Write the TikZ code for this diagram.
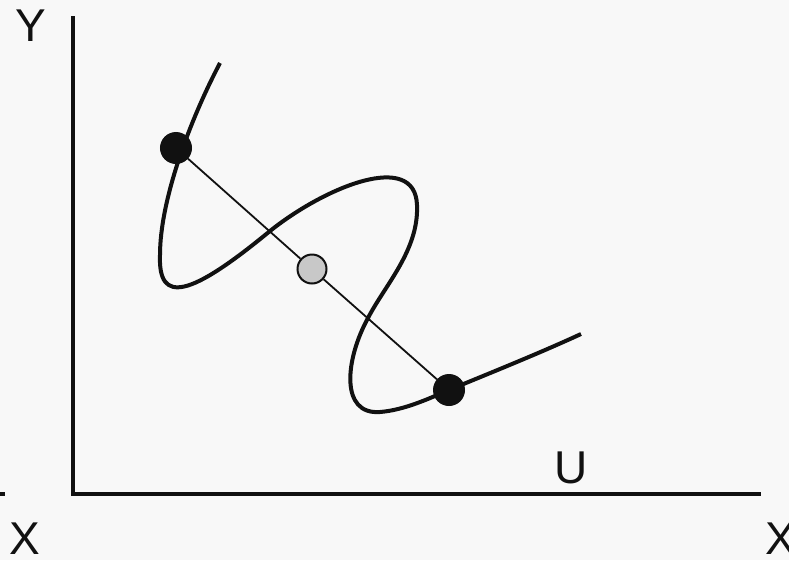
\documentclass[tikz,border=0pt]{standalone}
\usepackage{fontspec}
\setmainfont{Liberation Sans}
\definecolor{bg}{RGB}{248,248,248}
\definecolor{ink}{RGB}{17,17,17}
\definecolor{midgray}{RGB}{200,200,200}
\begin{document}
\begin{tikzpicture}[x=1pt,y=-1pt,
  axisline/.style={line width=4pt,draw=ink},
  wave/.style={line width=4pt,draw=ink},
  chord/.style={line width=1.8pt,draw=ink},
  bigdot/.style={circle,draw=ink,line width=2pt,fill=ink,minimum size=30pt,inner sep=0pt},
  middot/.style={circle,draw=ink,line width=2pt,fill=midgray,minimum size=29pt,inner sep=0pt},
  lbl/.style={inner sep=0pt,text=ink,font=\fontsize{46}{50}\selectfont}]
\fill[bg] (0,0) rectangle (789,560);
\useasboundingbox (0,0) rectangle (789,560);
% axes
\coordinate (ytop) at (73,16);
\coordinate (orig) at (73,494);
\coordinate (xend) at (761,494);
\coordinate (tickL) at (0,494);
\coordinate (tickR) at (5,494);
\draw[axisline] (ytop) -- ([yshift=2pt]orig);
\draw[axisline] ([xshift=-2pt]orig) -- (xend);
\draw[axisline] (tickL) -- (tickR);
% labels
\node[lbl] (ylab) at (31,26) {Y};
\node[lbl] (xlabl) at (25,539) {X};
\node[lbl] (xlabr) at (781,539) {X};
\node[lbl] (ulab) at (571,468) {U};
% wave
\coordinate (w0) at (220,63);
\coordinate (w1) at (160,255);
\coordinate (w2) at (270,231);
\coordinate (w3) at (417,205);
\coordinate (w4) at (368,318);
\coordinate (w5) at (380,412);
\coordinate (w6) at (449,390);
\coordinate (w7) at (581,334);
\draw[wave,line cap=butt] (w0) .. controls (190,120) and (160,200) .. (w1)
  .. controls (158,305) and (190,297) .. (w2)
  .. controls (325,187) and (415,150) .. (w3)
  .. controls (419,250) and (385,285) .. (w4)
  .. controls (345,360) and (340,415) .. (w5)
  .. controls (405,410) and (430,398) .. (w6)
  .. controls (490,373) and (540,353) .. (w7);
% points
\node[bigdot] (pa) at (176,148) {};
\node[bigdot] (pb) at (449,390) {};
\node[middot] (pm) at (312,269) {};
\draw[chord] (pa) -- (pm);
\draw[chord] (pm) -- (pb);
\end{tikzpicture}
\end{document}
